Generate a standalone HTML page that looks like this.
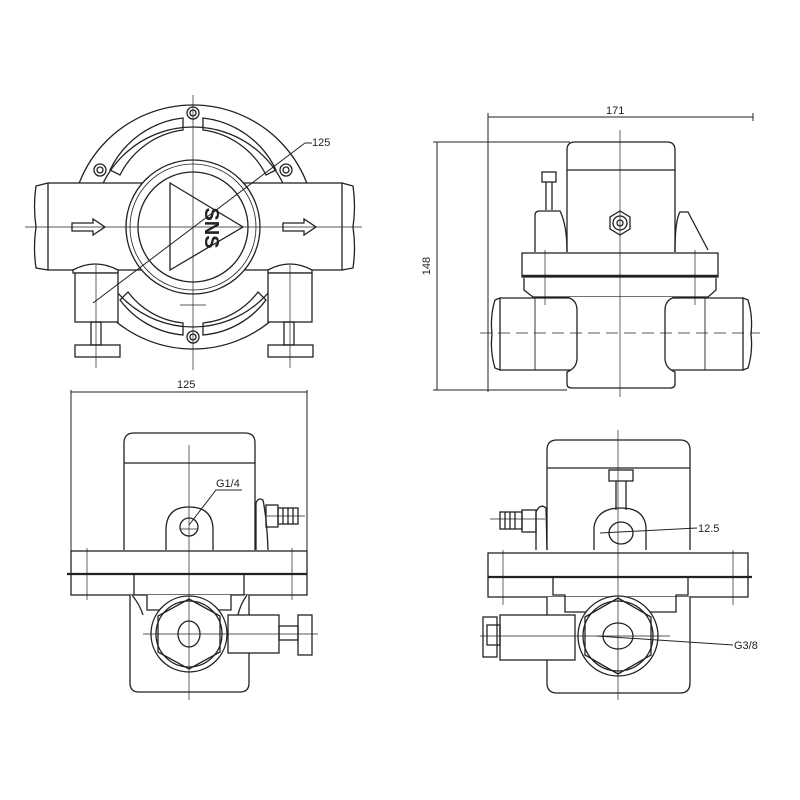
<!DOCTYPE html>
<html><head><meta charset="utf-8"><style>
html,body{margin:0;padding:0;background:#fff;}
svg{display:block}
text{font-family:"Liberation Sans",sans-serif;font-size:11px;fill:#222}
</style></head><body>
<svg width="800" height="800" viewBox="0 0 800 800" xmlns="http://www.w3.org/2000/svg">
<g fill="none" stroke="#222" stroke-width="1.3">
<!-- ===== TOP LEFT VIEW ===== -->
<circle cx="193" cy="227" r="122" fill="#fff"/>
<circle cx="193" cy="227" r="100"/>
<path d="M110 170 A92 92 0 0 1 183 118 L183 130 A82 82 0 0 0 120 175 Z"/>
<path d="M276 170 A92 92 0 0 0 203 118 L203 130 A82 82 0 0 1 266 175 Z"/>
<path d="M120 300 A88 88 0 0 0 183 335 L183 323 A78 78 0 0 1 128 292 Z"/>
<path d="M266 300 A88 88 0 0 1 203 335 L203 323 A78 78 0 0 0 258 292 Z"/>
<circle cx="193" cy="113" r="6"/><circle cx="193" cy="113" r="3"/>
<circle cx="100" cy="170" r="6"/><circle cx="100" cy="170" r="3"/>
<circle cx="286" cy="170" r="6"/><circle cx="286" cy="170" r="3"/>
<circle cx="193" cy="337" r="6"/><circle cx="193" cy="337" r="3"/>
<rect x="48" y="183" width="294" height="87" fill="#fff"/>
<path d="M48 183 L36 186 Q33 206 36 227 Q33 248 36 268 L48 270"/>
<path d="M342 183 L353 186 Q356 206 353 227 Q356 248 353 268 L342 270"/>
<circle cx="193" cy="227" r="67" fill="#fff"/>
<circle cx="193" cy="227" r="63" stroke-width="0.8"/>
<circle cx="193" cy="227" r="55"/>
<path d="M170 183 L243 227 L170 270 Z"/>
<path d="M72 223 L93 223 L93 219 L105 227 L93 235 L93 231 L72 231 Z"/>
<path d="M283 223 L304 223 L304 219 L316 227 L304 235 L304 231 L283 231 Z"/>
<path d="M73 270 Q95 258 118 270 L118 273 L73 273 Z" fill="#fff"/>
<path d="M268 270 Q290 258 312 270 L312 273 L268 273 Z" fill="#fff"/>
<rect x="75" y="273" width="43" height="49" fill="#fff"/>
<rect x="268" y="273" width="44" height="49" fill="#fff"/>
<rect x="91" y="322" width="10" height="23"/>
<rect x="284" y="322" width="10" height="23"/>
<rect x="75" y="345" width="45" height="12"/>
<rect x="268" y="345" width="45" height="12"/>
<g stroke-width="0.7">
<line x1="193" y1="95" x2="193" y2="370"/>
<line x1="25" y1="227" x2="362" y2="227"/>
<line x1="96" y1="265" x2="96" y2="368"/>
<line x1="290" y1="265" x2="290" y2="368"/>
<line x1="180" y1="305" x2="206" y2="305"/>
</g>
<line x1="93" y1="303" x2="305" y2="143" stroke-width="1"/>
<line x1="305" y1="143" x2="312" y2="143" stroke-width="1"/>

<!-- ===== TOP RIGHT VIEW ===== -->
<g stroke-width="1">
<line x1="488" y1="117" x2="753" y2="117"/>
<line x1="488" y1="113" x2="488" y2="392"/>
<line x1="753" y1="113" x2="753" y2="121"/>
<line x1="437" y1="142" x2="437" y2="390"/>
<line x1="433" y1="142" x2="570" y2="142"/>
<line x1="433" y1="390" x2="567" y2="390"/>
</g>
<path d="M567 252 L567 150 Q567 142 575 142 L667 142 Q675 142 675 150 L675 252" fill="#fff"/>
<line x1="567" y1="170" x2="675" y2="170"/>
<path d="M535 252 L535 215 Q535 211 540 211 L560 211 Q567 225 567 252"/>
<path d="M675 252 Q675 220 680 212 L688 212 L708 250"/>
<rect x="542" y="172" width="14" height="10"/>
<line x1="546" y1="182" x2="546" y2="210"/><line x1="552" y1="182" x2="552" y2="210"/>
<polygon points="620,211 630,217 630,229 620,235 610,229 610,217"/>
<circle cx="620" cy="223" r="7"/><circle cx="620" cy="223" r="3"/>
<rect x="522" y="253" width="196" height="24" fill="#fff"/>
<line x1="522" y1="276" x2="718" y2="276" stroke-width="2.5"/>
<path d="M524 278 L524 290 L533 297 L708 297 L716 290 L716 278"/>
<!-- pipe -->
<path d="M500 298 L743 298 M500 370 L743 370"/>
<path d="M500 298 L495 300 Q490 316 492 334 Q490 352 495 368 L500 370 Z"/>
<path d="M743 298 L748 300 Q753 316 751 334 Q753 352 748 368 L743 370 Z"/>
<line x1="535" y1="298" x2="535" y2="370" stroke-width="0.9"/>
<line x1="705" y1="298" x2="705" y2="370" stroke-width="0.9"/>
<!-- bowl -->
<path d="M567 297 Q577 300 577 310 L577 358 Q577 368 567 372 L567 384 Q567 388 572 388 L670 388 Q675 388 675 384 L675 372 Q665 368 665 358 L665 310 Q665 300 675 297" fill="#fff"/>
<g stroke-width="0.7">
<line x1="620" y1="130" x2="620" y2="397"/>
<line x1="480" y1="333" x2="760" y2="333" stroke-dasharray="12 6"/>
<line x1="545" y1="250" x2="545" y2="305"/>
<line x1="695" y1="250" x2="695" y2="305"/>
</g>

<!-- ===== BOTTOM LEFT VIEW ===== -->
<g stroke-width="1">
<line x1="71" y1="392" x2="307" y2="392"/>
<line x1="71" y1="390" x2="71" y2="595"/>
<line x1="307" y1="390" x2="307" y2="595"/>
</g>
<path d="M124 550 L124 443 Q124 433 134 433 L245 433 Q255 433 255 443 L255 550" fill="#fff"/>
<line x1="124" y1="463" x2="255" y2="463"/>
<path d="M166 550 L166 530 Q166 507 189 507 Q213 507 213 530 L213 550"/>
<circle cx="189" cy="527" r="9"/>
<line x1="180" y1="529" x2="198" y2="529" stroke-width="0.8"/>
<path d="M256 550 L256 503 Q258 497 263 500 Q267 520 268 550"/>
<rect x="266" y="505" width="12" height="22"/>
<rect x="278" y="508" width="20" height="16"/>
<line x1="283" y1="508" x2="283" y2="524"/><line x1="288" y1="508" x2="288" y2="524"/><line x1="293" y1="508" x2="293" y2="524"/>
<rect x="71" y="551" width="236" height="44" fill="#fff"/>
<line x1="67" y1="574" x2="307" y2="574" stroke-width="2.2"/>
<path d="M130 595 L130 683 Q130 692 139 692 L240 692 Q249 692 249 683 L249 595" fill="#fff"/>
<path d="M132 595 Q140 605 143 615 M247 595 Q240 605 238 615"/>
<path d="M134 575 L134 595 L147 595 L147 610 L231 610 L231 595 L244 595 L244 575"/>
<rect x="228" y="615" width="51" height="38" fill="#fff"/>
<rect x="279" y="626" width="19" height="14"/>
<rect x="298" y="615" width="14" height="40"/>
<circle cx="189" cy="634" r="38" fill="#fff"/>
<polygon points="189,599 220,616 220,652 189,669 158,652 158,616"/>
<circle cx="189" cy="634" r="33"/>
<ellipse cx="189" cy="634" rx="11" ry="13"/>
<g stroke-width="0.7">
<line x1="189" y1="445" x2="189" y2="700"/>
<line x1="143" y1="634" x2="318" y2="634"/>
<line x1="87" y1="548" x2="87" y2="600"/>
<line x1="292" y1="548" x2="292" y2="600"/>
<line x1="267" y1="516" x2="305" y2="516"/>
</g>
<polyline points="189,525 216,490 242,490" stroke-width="1"/>

<!-- ===== BOTTOM RIGHT VIEW ===== -->
<path d="M547 550 L547 450 Q547 440 557 440 L680 440 Q690 440 690 450 L690 550" fill="#fff"/>
<line x1="547" y1="468" x2="690" y2="468"/>
<rect x="609" y="470" width="24" height="11"/>
<line x1="616" y1="481" x2="616" y2="510"/><line x1="626" y1="481" x2="626" y2="510"/>
<path d="M594 550 L594 527 Q597 508 621 508 Q644 508 646 527 L646 550"/>
<ellipse cx="621" cy="533" rx="12" ry="11"/>
<path d="M536 550 L536 512 Q540 503 546 508 L547 550"/>
<rect x="522" y="510" width="14" height="22"/>
<rect x="500" y="512" width="22" height="17"/>
<line x1="505" y1="512" x2="505" y2="529"/><line x1="510" y1="512" x2="510" y2="529"/><line x1="515" y1="512" x2="515" y2="529"/>
<rect x="488" y="553" width="260" height="44" fill="#fff"/>
<line x1="488" y1="577" x2="752" y2="577" stroke-width="2.2"/>
<path d="M547 597 L547 683 Q547 693 557 693 L680 693 Q690 693 690 683 L690 597" fill="#fff"/>
<path d="M553 577 L553 595 L565 595 L565 612 L676 612 L676 595 L688 595 L688 577"/>
<rect x="500" y="615" width="75" height="45" fill="#fff"/>
<rect x="487" y="625" width="13" height="20"/>
<rect x="483" y="617" width="14" height="40"/>
<circle cx="618" cy="636" r="40" fill="#fff"/>
<polygon points="618,598 651,617 651,655 618,674 585,655 585,617"/>
<circle cx="618" cy="636" r="35"/>
<ellipse cx="618" cy="636" rx="15" ry="13"/>
<g stroke-width="0.7">
<line x1="618" y1="430" x2="618" y2="700"/>
<line x1="480" y1="636" x2="670" y2="636"/>
<line x1="503" y1="550" x2="503" y2="605"/>
<line x1="733" y1="550" x2="733" y2="605"/>
<line x1="490" y1="519" x2="545" y2="519"/>
</g>
<line x1="600" y1="533" x2="697" y2="528" stroke-width="1"/>
<line x1="597" y1="636" x2="733" y2="645" stroke-width="1"/>
</g>
<text x="312" y="146">125</text>
<text x="606" y="114">171</text>
<text x="430" y="266" transform="rotate(-90 430 266)" text-anchor="middle">148</text>
<text x="177" y="388">125</text>
<text x="216" y="487">G1/4</text>
<text x="698" y="532">12.5</text>
<text x="734" y="649">G3/8</text>
<text x="205" y="228" transform="rotate(90 205 228)" text-anchor="middle" style="font-size:20px;font-weight:bold">SNS</text>
</svg>
</body></html>
